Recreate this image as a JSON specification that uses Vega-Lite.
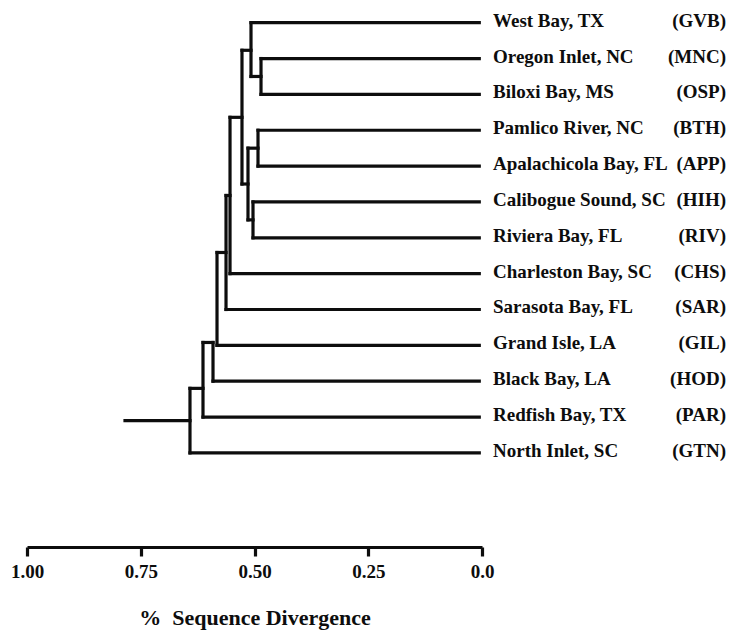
{
  "$schema": "https://vega.github.io/schema/vega-lite/v6.json",
  "autosize": {"type": "none"},
  "width": 455,
  "height": 547,
  "padding": {"left": 27, "top": 0, "right": 247, "bottom": 87},
  "background": "white",
  "config": {"view": {"stroke": null}, "font": "Liberation Serif"},
  "datasets": {
    "segments": [
      {"x": 0.5077, "x2": 0.006, "y": 1, "y2": 1},
      {"x": 0.4857, "x2": 0.006, "y": 2, "y2": 2},
      {"x": 0.4857, "x2": 0.006, "y": 3, "y2": 3},
      {"x": 0.4923, "x2": 0.006, "y": 4, "y2": 4},
      {"x": 0.4923, "x2": 0.006, "y": 5, "y2": 5},
      {"x": 0.5033, "x2": 0.006, "y": 6, "y2": 6},
      {"x": 0.5033, "x2": 0.006, "y": 7, "y2": 7},
      {"x": 0.5538, "x2": 0.006, "y": 8, "y2": 8},
      {"x": 0.5626, "x2": 0.006, "y": 9, "y2": 9},
      {"x": 0.5824, "x2": 0.006, "y": 10, "y2": 10},
      {"x": 0.5912, "x2": 0.006, "y": 11, "y2": 11},
      {"x": 0.6132, "x2": 0.006, "y": 12, "y2": 12},
      {"x": 0.6418, "x2": 0.006, "y": 13, "y2": 13},
      {"x": 0.4857, "x2": 0.4857, "y": 2, "y2": 3},
      {"x": 0.5077, "x2": 0.5077, "y": 1, "y2": 2.5},
      {"x": 0.4923, "x2": 0.4923, "y": 4, "y2": 5},
      {"x": 0.5033, "x2": 0.5033, "y": 6, "y2": 7},
      {"x": 0.5143, "x2": 0.5143, "y": 4.5, "y2": 6.5},
      {"x": 0.5275, "x2": 0.5275, "y": 1.77, "y2": 5.5},
      {"x": 0.5538, "x2": 0.5538, "y": 3.64, "y2": 8},
      {"x": 0.5626, "x2": 0.5626, "y": 5.82, "y2": 9},
      {"x": 0.5824, "x2": 0.5824, "y": 7.41, "y2": 10},
      {"x": 0.5912, "x2": 0.5912, "y": 9.92, "y2": 11},
      {"x": 0.6132, "x2": 0.6132, "y": 9.92, "y2": 12},
      {"x": 0.6418, "x2": 0.6418, "y": 11.2, "y2": 13},
      {"x": 0.5077, "x2": 0.4857, "y": 2.5, "y2": 2.5},
      {"x": 0.5275, "x2": 0.5077, "y": 1.77, "y2": 1.77},
      {"x": 0.5143, "x2": 0.4923, "y": 4.5, "y2": 4.5},
      {"x": 0.5143, "x2": 0.5033, "y": 6.5, "y2": 6.5},
      {"x": 0.5275, "x2": 0.5143, "y": 5.5, "y2": 5.5},
      {"x": 0.5538, "x2": 0.5275, "y": 3.64, "y2": 3.64},
      {"x": 0.5626, "x2": 0.5538, "y": 5.82, "y2": 5.82},
      {"x": 0.5824, "x2": 0.5626, "y": 7.41, "y2": 7.41},
      {"x": 0.6132, "x2": 0.5912, "y": 9.92, "y2": 9.92},
      {"x": 0.6418, "x2": 0.6132, "y": 11.2, "y2": 11.2},
      {"x": 0.7846, "x2": 0.6418, "y": 12.1, "y2": 12.1}
    ],
    "leaves": [
      {"rank": 1, "site": "West Bay, TX", "code": "(GVB)"},
      {"rank": 2, "site": "Oregon Inlet, NC", "code": "(MNC)"},
      {"rank": 3, "site": "Biloxi Bay, MS", "code": "(OSP)"},
      {"rank": 4, "site": "Pamlico River, NC", "code": "(BTH)"},
      {"rank": 5, "site": "Apalachicola Bay, FL", "code": "(APP)"},
      {"rank": 6, "site": "Calibogue Sound, SC", "code": "(HIH)"},
      {"rank": 7, "site": "Riviera Bay, FL", "code": "(RIV)"},
      {"rank": 8, "site": "Charleston Bay, SC", "code": "(CHS)"},
      {"rank": 9, "site": "Sarasota Bay, FL", "code": "(SAR)"},
      {"rank": 10, "site": "Grand Isle, LA", "code": "(GIL)"},
      {"rank": 11, "site": "Black Bay, LA", "code": "(HOD)"},
      {"rank": 12, "site": "Redfish Bay, TX", "code": "(PAR)"},
      {"rank": 13, "site": "North Inlet, SC", "code": "(GTN)"}
    ]
  },
  "layer": [
    {
      "data": {"name": "segments"},
      "mark": {"type": "rule", "color": "#0d0d0d", "strokeWidth": 3.2, "strokeCap": "square"},
      "encoding": {
        "x": {
          "field": "x", "type": "quantitative",
          "scale": {"domain": [0, 1], "reverse": true, "nice": false, "zero": false},
          "axis": {
            "values": [1, 0.75, 0.5, 0.25, 0],
            "labelExpr": "datum.value == 0 ? '0.0' : format(datum.value, '.2f')",
            "grid": false,
            "domainColor": "#0d0d0d", "domainWidth": 3.2,
            "tickColor": "#0d0d0d", "tickWidth": 3.2, "tickSize": 9,
            "labelFont": "Liberation Serif", "labelFontWeight": "bold", "labelFontSize": 19,
            "labelColor": "#0d0d0d", "labelPadding": 6, "labelFlush": false,
            "title": "% \u00a0Sequence Divergence",
            "titleFont": "Liberation Serif", "titleFontWeight": "bold", "titleFontSize": 22,
            "titleColor": "#0d0d0d", "titlePadding": 26
          }
        },
        "x2": {"field": "x2"},
        "y": {
          "field": "y", "type": "quantitative",
          "scale": {"domain": [0.367, 15.625], "reverse": true, "nice": false, "zero": false},
          "axis": null
        },
        "y2": {"field": "y2"}
      }
    },
    {
      "data": {"name": "leaves"},
      "mark": {"type": "text", "align": "left", "baseline": "middle", "font": "Liberation Serif", "fontWeight": "bold", "fontSize": 19, "color": "#0d0d0d", "dy": -2},
      "encoding": {
        "x": {"datum": -0.0242, "type": "quantitative"},
        "y": {"field": "rank", "type": "quantitative"},
        "text": {"field": "site"}
      }
    },
    {
      "data": {"name": "leaves"},
      "mark": {"type": "text", "align": "right", "baseline": "middle", "font": "Liberation Serif", "fontWeight": "bold", "fontSize": 19, "color": "#0d0d0d", "dy": -2},
      "encoding": {
        "x": {"datum": -0.5363, "type": "quantitative"},
        "y": {"field": "rank", "type": "quantitative"},
        "text": {"field": "code"}
      }
    }
  ]
}
